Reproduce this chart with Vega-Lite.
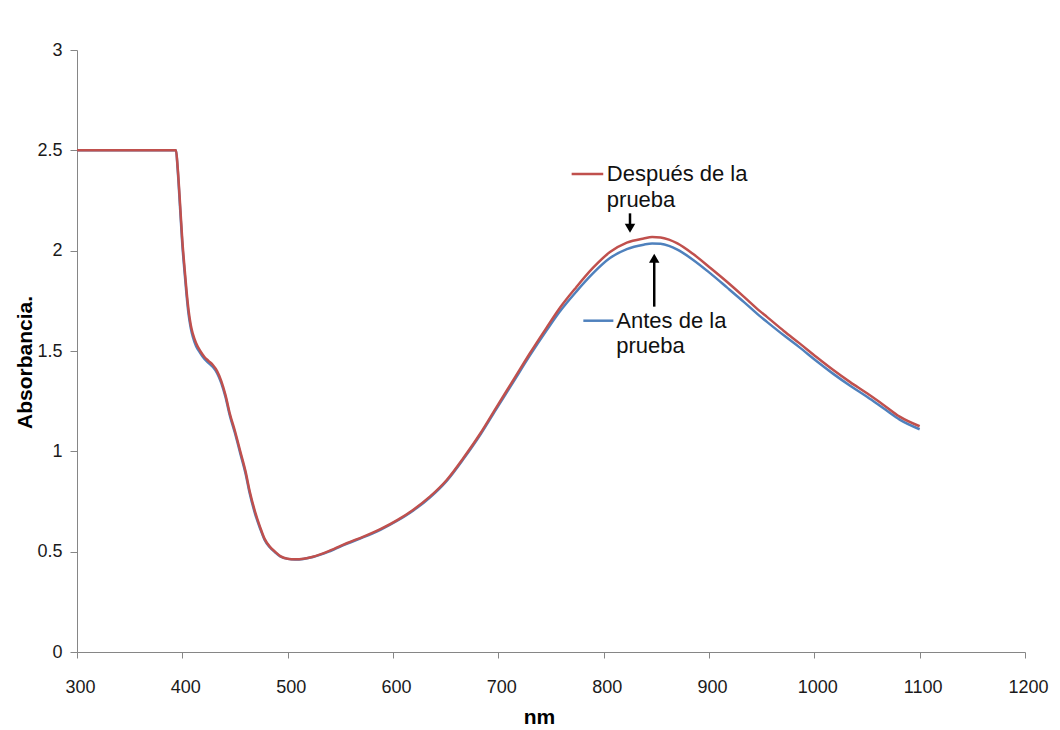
{
  "$schema": "https://vega.github.io/schema/vega-lite/v6.json",
  "autosize": "none",
  "width": 948,
  "height": 602,
  "padding": {"left": 77, "top": 50, "right": 35, "bottom": 78},
  "background": "white",
  "config": {
    "view": {"stroke": null},
    "axis": {
      "grid": false,
      "domainColor": "#868686",
      "tickColor": "#868686",
      "domainWidth": 1,
      "tickWidth": 1,
      "labelColor": "#1a1a1a",
      "labelFont": "Liberation Sans",
      "titleFont": "Liberation Sans",
      "titleColor": "#000000",
      "titleFontWeight": "bold",
      "labelFlush": false,
      "labelOverlap": false,
      "labelBound": false
    }
  },
  "datasets": {
    "curves": [
      {"series": "Después", "nm": 300, "A": 2.5},
      {"series": "Después", "nm": 394, "A": 2.5},
      {"series": "Después", "nm": 395.5, "A": 2.42},
      {"series": "Después", "nm": 398, "A": 2.22},
      {"series": "Después", "nm": 400, "A": 2.05},
      {"series": "Después", "nm": 402, "A": 1.92},
      {"series": "Después", "nm": 404, "A": 1.8},
      {"series": "Después", "nm": 406, "A": 1.7},
      {"series": "Después", "nm": 408, "A": 1.63},
      {"series": "Después", "nm": 410, "A": 1.585},
      {"series": "Después", "nm": 413, "A": 1.54},
      {"series": "Después", "nm": 417, "A": 1.5},
      {"series": "Después", "nm": 421, "A": 1.47},
      {"series": "Después", "nm": 425, "A": 1.45},
      {"series": "Después", "nm": 429, "A": 1.43},
      {"series": "Después", "nm": 433, "A": 1.4},
      {"series": "Después", "nm": 437, "A": 1.35},
      {"series": "Después", "nm": 441, "A": 1.28},
      {"series": "Después", "nm": 445, "A": 1.19},
      {"series": "Después", "nm": 450, "A": 1.1},
      {"series": "Después", "nm": 455, "A": 1.0},
      {"series": "Después", "nm": 460, "A": 0.9},
      {"series": "Después", "nm": 464, "A": 0.8},
      {"series": "Después", "nm": 469, "A": 0.7},
      {"series": "Después", "nm": 474, "A": 0.62},
      {"series": "Después", "nm": 478, "A": 0.565},
      {"series": "Después", "nm": 483, "A": 0.525},
      {"series": "Después", "nm": 488, "A": 0.5},
      {"series": "Después", "nm": 493, "A": 0.478},
      {"series": "Después", "nm": 500, "A": 0.465},
      {"series": "Después", "nm": 507, "A": 0.462},
      {"series": "Después", "nm": 515, "A": 0.465},
      {"series": "Después", "nm": 524, "A": 0.475},
      {"series": "Después", "nm": 540, "A": 0.505},
      {"series": "Después", "nm": 556, "A": 0.542},
      {"series": "Después", "nm": 572, "A": 0.575},
      {"series": "Después", "nm": 588, "A": 0.612},
      {"series": "Después", "nm": 604, "A": 0.657},
      {"series": "Después", "nm": 619, "A": 0.708},
      {"series": "Después", "nm": 635, "A": 0.774},
      {"series": "Después", "nm": 651, "A": 0.857},
      {"series": "Después", "nm": 667, "A": 0.968},
      {"series": "Después", "nm": 683, "A": 1.09},
      {"series": "Después", "nm": 698, "A": 1.218},
      {"series": "Después", "nm": 714, "A": 1.353},
      {"series": "Después", "nm": 730, "A": 1.489},
      {"series": "Después", "nm": 746, "A": 1.618},
      {"series": "Después", "nm": 758, "A": 1.712},
      {"series": "Después", "nm": 774, "A": 1.818},
      {"series": "Después", "nm": 790, "A": 1.915},
      {"series": "Después", "nm": 806, "A": 1.993},
      {"series": "Después", "nm": 822, "A": 2.04},
      {"series": "Después", "nm": 838, "A": 2.061},
      {"series": "Después", "nm": 846, "A": 2.068},
      {"series": "Después", "nm": 854, "A": 2.066},
      {"series": "Después", "nm": 862, "A": 2.055},
      {"series": "Después", "nm": 870, "A": 2.036},
      {"series": "Después", "nm": 885, "A": 1.983},
      {"series": "Después", "nm": 901, "A": 1.915},
      {"series": "Después", "nm": 917, "A": 1.845},
      {"series": "Después", "nm": 933, "A": 1.771},
      {"series": "Después", "nm": 948, "A": 1.7},
      {"series": "Después", "nm": 955, "A": 1.67},
      {"series": "Después", "nm": 971, "A": 1.6},
      {"series": "Después", "nm": 986, "A": 1.538},
      {"series": "Después", "nm": 1002, "A": 1.47},
      {"series": "Después", "nm": 1018, "A": 1.405},
      {"series": "Después", "nm": 1034, "A": 1.345},
      {"series": "Después", "nm": 1050, "A": 1.289},
      {"series": "Después", "nm": 1066, "A": 1.23},
      {"series": "Después", "nm": 1081, "A": 1.173},
      {"series": "Después", "nm": 1100, "A": 1.125},

      {"series": "Antes", "nm": 300, "A": 2.5},
      {"series": "Antes", "nm": 394, "A": 2.5},
      {"series": "Antes", "nm": 395.5, "A": 2.41},
      {"series": "Antes", "nm": 398, "A": 2.2},
      {"series": "Antes", "nm": 400, "A": 2.03},
      {"series": "Antes", "nm": 402, "A": 1.9},
      {"series": "Antes", "nm": 404, "A": 1.78},
      {"series": "Antes", "nm": 406, "A": 1.68},
      {"series": "Antes", "nm": 408, "A": 1.615},
      {"series": "Antes", "nm": 410, "A": 1.57},
      {"series": "Antes", "nm": 413, "A": 1.525},
      {"series": "Antes", "nm": 417, "A": 1.49},
      {"series": "Antes", "nm": 421, "A": 1.46},
      {"series": "Antes", "nm": 425, "A": 1.44},
      {"series": "Antes", "nm": 429, "A": 1.42},
      {"series": "Antes", "nm": 433, "A": 1.39},
      {"series": "Antes", "nm": 437, "A": 1.34},
      {"series": "Antes", "nm": 441, "A": 1.27},
      {"series": "Antes", "nm": 445, "A": 1.18},
      {"series": "Antes", "nm": 450, "A": 1.09},
      {"series": "Antes", "nm": 455, "A": 0.99},
      {"series": "Antes", "nm": 460, "A": 0.89},
      {"series": "Antes", "nm": 464, "A": 0.79},
      {"series": "Antes", "nm": 469, "A": 0.69},
      {"series": "Antes", "nm": 474, "A": 0.613},
      {"series": "Antes", "nm": 478, "A": 0.56},
      {"series": "Antes", "nm": 483, "A": 0.522},
      {"series": "Antes", "nm": 488, "A": 0.497},
      {"series": "Antes", "nm": 493, "A": 0.476},
      {"series": "Antes", "nm": 500, "A": 0.464},
      {"series": "Antes", "nm": 507, "A": 0.461},
      {"series": "Antes", "nm": 515, "A": 0.464},
      {"series": "Antes", "nm": 524, "A": 0.473},
      {"series": "Antes", "nm": 540, "A": 0.502},
      {"series": "Antes", "nm": 556, "A": 0.539},
      {"series": "Antes", "nm": 572, "A": 0.572},
      {"series": "Antes", "nm": 588, "A": 0.609},
      {"series": "Antes", "nm": 604, "A": 0.654},
      {"series": "Antes", "nm": 619, "A": 0.704},
      {"series": "Antes", "nm": 635, "A": 0.77},
      {"series": "Antes", "nm": 651, "A": 0.853},
      {"series": "Antes", "nm": 667, "A": 0.963},
      {"series": "Antes", "nm": 683, "A": 1.084},
      {"series": "Antes", "nm": 698, "A": 1.211},
      {"series": "Antes", "nm": 714, "A": 1.344},
      {"series": "Antes", "nm": 730, "A": 1.478},
      {"series": "Antes", "nm": 746, "A": 1.604},
      {"series": "Antes", "nm": 758, "A": 1.694},
      {"series": "Antes", "nm": 774, "A": 1.796},
      {"series": "Antes", "nm": 790, "A": 1.888},
      {"series": "Antes", "nm": 806, "A": 1.963},
      {"series": "Antes", "nm": 822, "A": 2.008},
      {"series": "Antes", "nm": 838, "A": 2.03},
      {"series": "Antes", "nm": 846, "A": 2.036},
      {"series": "Antes", "nm": 854, "A": 2.034},
      {"series": "Antes", "nm": 862, "A": 2.024},
      {"series": "Antes", "nm": 870, "A": 2.005},
      {"series": "Antes", "nm": 885, "A": 1.954},
      {"series": "Antes", "nm": 901, "A": 1.888},
      {"series": "Antes", "nm": 917, "A": 1.817},
      {"series": "Antes", "nm": 933, "A": 1.745},
      {"series": "Antes", "nm": 948, "A": 1.675},
      {"series": "Antes", "nm": 955, "A": 1.645},
      {"series": "Antes", "nm": 971, "A": 1.578},
      {"series": "Antes", "nm": 986, "A": 1.518},
      {"series": "Antes", "nm": 1002, "A": 1.45},
      {"series": "Antes", "nm": 1018, "A": 1.386},
      {"series": "Antes", "nm": 1034, "A": 1.327},
      {"series": "Antes", "nm": 1050, "A": 1.272},
      {"series": "Antes", "nm": 1066, "A": 1.213},
      {"series": "Antes", "nm": 1081, "A": 1.158},
      {"series": "Antes", "nm": 1100, "A": 1.11}
    ],
    "keys": [
      {"series": "Después", "nm": 769.6, "nm2": 799.6, "A": 2.382},
      {"series": "Antes", "nm": 780.7, "nm2": 809.2, "A": 1.651}
    ],
    "labels": [
      {"text": "Después de la", "nm": 803, "A": 2.345},
      {"text": "prueba", "nm": 803, "A": 2.22},
      {"text": "Antes de la", "nm": 812, "A": 1.614},
      {"text": "prueba", "nm": 812, "A": 1.492}
    ],
    "shafts": [
      {"nm": 825, "A": 2.186, "A2": 2.115},
      {"nm": 848, "A": 1.721, "A2": 1.955}
    ],
    "heads": [
      {"dir": "down", "nm": 825, "A": 2.112},
      {"dir": "up", "nm": 848, "A": 1.962}
    ]
  },
  "encoding": {
    "x": {
      "field": "nm",
      "type": "quantitative",
      "scale": {"domain": [300, 1200], "nice": false, "zero": false},
      "axis": {
        "title": "nm",
        "values": [300, 400, 500, 600, 700, 800, 900, 1000, 1100, 1200],
        "format": "d",
        "tickSize": 6,
        "labelPadding": 20,
        "labelFontSize": 18,
        "labelOffset": 3,
        "titleFontSize": 21,
        "titleX": 462,
        "titleY": 71,
        "titleAlign": "center",
        "titleBaseline": "alphabetic"
      }
    },
    "y": {
      "field": "A",
      "type": "quantitative",
      "scale": {"domain": [0, 3], "nice": false},
      "axis": {
        "title": "Absorbancia.",
        "values": [0, 0.5, 1, 1.5, 2, 2.5, 3],
        "format": "~g",
        "tickSize": 7,
        "labelPadding": 8,
        "labelFontSize": 18,
        "titleFontSize": 21,
        "titleAngle": -90,
        "titleX": -46,
        "titleY": 312,
        "titleAlign": "center",
        "titleBaseline": "alphabetic"
      }
    }
  },
  "layer": [
    {
      "data": {"name": "curves"},
      "transform": [{"filter": "datum.series === 'Antes'"}],
      "mark": {"type": "line", "strokeWidth": 2.5, "interpolate": "monotone"},
      "encoding": {
        "color": {"field": "series", "type": "nominal", "scale": {"domain": ["Antes", "Después"], "range": ["#4F81BD", "#C0504D"]}, "legend": null}
      }
    },
    {
      "data": {"name": "curves"},
      "transform": [{"filter": "datum.series === 'Después'"}],
      "mark": {"type": "line", "strokeWidth": 2.5, "interpolate": "monotone"},
      "encoding": {
        "color": {"field": "series", "type": "nominal", "legend": null}
      }
    },
    {
      "data": {"name": "keys"},
      "mark": {"type": "rule", "strokeWidth": 2.5},
      "encoding": {
        "x2": {"field": "nm2"},
        "color": {"field": "series", "type": "nominal", "legend": null}
      }
    },
    {
      "data": {"name": "labels"},
      "mark": {"type": "text", "align": "left", "baseline": "alphabetic", "font": "Liberation Sans", "fontSize": 22, "color": "#111111"},
      "encoding": {
        "text": {"field": "text"}
      }
    },
    {
      "data": {"name": "shafts"},
      "mark": {"type": "rule", "strokeWidth": 2.5, "color": "#000000"},
      "encoding": {
        "y2": {"field": "A2"}
      }
    },
    {
      "data": {"name": "heads"},
      "mark": {"type": "point", "filled": true, "opacity": 1, "color": "#000000", "size": 110},
      "encoding": {
        "shape": {"field": "dir", "type": "nominal", "scale": {"domain": ["down", "up"], "range": ["triangle-down", "triangle-up"]}, "legend": null}
      }
    }
  ]
}
